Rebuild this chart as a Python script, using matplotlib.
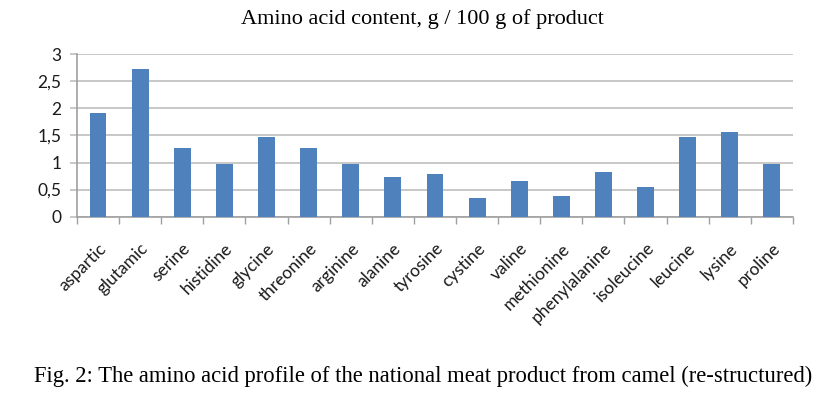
import matplotlib
matplotlib.use('Agg')
import matplotlib.pyplot as plt
import numpy as np
from matplotlib.ticker import FuncFormatter

# amino acid content, g / 100 g of product
amino = ['aspartic', 'glutamic', 'serine', 'histidine', 'glycine', 'threonine',
         'arginine', 'alanine', 'tyrosine', 'cystine', 'valine', 'methionine',
         'phenylalanine', 'isoleucine', 'leucine', 'lysine', 'proline']
content = [1.91, 2.73, 1.27, 0.97, 1.48, 1.27, 0.97, 0.735, 0.785, 0.34,
           0.655, 0.39, 0.83, 0.555, 1.48, 1.56, 0.97]

fig = plt.figure(figsize=(8.26, 3.96), dpi=100)
ax = fig.add_axes([0.0932, 0.4528, 0.8668, 0.4101])

x = np.arange(len(amino))
ax.bar(x, content, width=0.4, color='#4F81BD', zorder=3)

ax.set_ylim(0, 3)
ax.set_xlim(-0.5, 16.15)
ax.set_yticks(np.arange(0, 3.01, 0.5))
ax.yaxis.set_major_formatter(FuncFormatter(lambda v, p: ('%g' % v).replace('.', ',')))
ax.grid(axis='y', color='#BFBFBF', linewidth=1.2, zorder=0)

ax.set_xticks(x)
ax.set_xticklabels(amino, rotation=45, ha='right', rotation_mode='anchor')
ax.set_xticks(np.arange(-0.5, 16.6, 1), minor=True)
ax.tick_params(axis='x', which='major', length=0, pad=17, labelsize=12.5, labelcolor='#1a1a1a')
ax.tick_params(axis='x', which='minor', length=5, color='#A0A0A0', width=1)
ax.tick_params(axis='y', length=5, color='#BFBFBF', width=1.2, labelsize=12.5,
               labelcolor='#1a1a1a', pad=6)
for lbl in ax.get_xticklabels() + ax.get_yticklabels():
    lbl.set_family('Lato')

for s in ['top', 'right']:
    ax.spines[s].set_visible(False)
ax.spines['left'].set_color('#A0A0A0')
ax.spines['bottom'].set_color('#A0A0A0')
ax.spines['left'].set_linewidth(1.2)
ax.spines['bottom'].set_linewidth(1.2)

fig.text(0.512, 0.953, 'Amino acid content, g / 100 g of product', ha='center', va='center',
         family='Liberation Serif', fontsize=16)
fig.text(0.512, 0.05, 'Fig. 2: The amino acid profile of the national meat product from camel (re-structured)',
         ha='center', va='center', family='Liberation Serif', fontsize=16.3)

fig.savefig('out.png', dpi=100)
